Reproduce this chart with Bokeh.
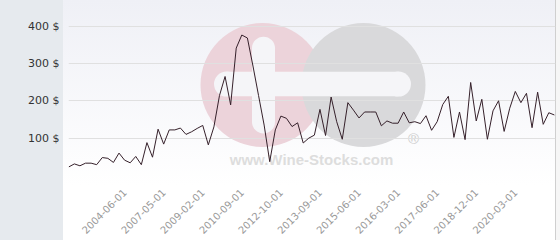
import math
import numpy as np
from bokeh.plotting import figure
from bokeh.models import FixedTicker, Range1d
from bokeh.core.properties import value
from bokeh.embed import file_html
from bokeh.resources import INLINE

# Price series (USD), one value per observation, in order
prices = [23, 31, 26, 33, 33, 29, 48, 46, 35, 60, 41, 34, 51, 29, 88, 49, 124, 84, 122, 122,
          127, 110, 117, 126, 134, 82, 130, 214, 265, 189, 341, 376, 368, 293, 214, 135, 37, 122, 159, 153,
          131, 141, 87, 100, 108, 177, 107, 210, 144, 97, 195, 175, 154, 170, 170, 170, 133, 146, 140, 140,
          170, 141, 144, 139, 160, 121, 144, 190, 212, 102, 170, 96, 249, 146, 204, 97, 173, 200, 118, 180,
          225, 195, 220, 128, 223, 137, 168, 162]

# Observations that carry a date label on the x axis
tick_index = [10, 17, 24, 31, 38, 45, 52, 59, 66, 73, 80]
tick_labels = ["2004-06-01", "2007-05-01", "2009-02-01", "2010-09-01", "2012-10-01",
               "2013-09-01", "2015-06-01", "2016-03-01", "2017-06-01", "2018-12-01", "2020-03-01"]

y_ticks = [0, 100, 200, 300, 400]
y_tick_labels = ["", "100 $", "200 $", "300 $", "400 $"]

x = np.arange(len(prices))

p = figure(width=560, height=240, output_backend="svg", toolbar_location=None,
           x_range=Range1d(-0.05, 87.2), y_range=Range1d(0, 468.4),
           min_border_left=68, min_border_right=5, min_border_top=0, min_border_bottom=62)

p.outline_line_color = None
p.background_fill_alpha = 0
p.border_fill_alpha = 0
p.styles = {
    "background": (
        "linear-gradient(to right, #e6eaee 0px, #e6eaee 63px, rgba(255,255,255,0) 63px), "
        "linear-gradient(to left, #f6f6f6 0px, #f6f6f6 4px, #cfcfcf 4px, #cfcfcf 5px, rgba(255,255,255,0) 5px), "
        "linear-gradient(to bottom, #eff0f6 0px, #ffffff 185px)"
    )
}

# watermark (drawn in pixel-like ranges, under the grid)
p.extra_x_ranges = {"px": Range1d(68, 555)}
p.extra_y_ranges = {"px": Range1d(178, 0)}
wm = dict(x_range_name="px", y_range_name="px", level="image")
p.circle(x=[262], y=[86], radius=62, fill_color="#ecd3da", line_color=None, **wm)
p.circle(x=[363], y=[86], radius=62, fill_color="#d9d9db", line_color=None, **wm)
white = "#f5f5f8"
p.rect(x=[263], y=[86], width=23, height=75, fill_color=white, line_color=None, **wm)
p.circle(x=[263, 263], y=[48.5, 123.5], radius=11.5, fill_color=white, line_color=None, **wm)
p.rect(x=[312], y=[85], width=172, height=25, fill_color=white, line_color=None, **wm)
p.circle(x=[226, 398], y=[85, 85], radius=12.5, fill_color=white, line_color=None, **wm)
p.text(x=[311], y=[162], text=["www.Wine-Stocks.com"], text_font=value("Liberation Sans"),
       text_font_style="bold", text_font_size="15px", text_color="#dddddd",
       text_align="center", text_baseline="middle", **wm)
p.text(x=[413], y=[140], text=["®"], text_font=value("Liberation Sans"),
       text_font_size="15px", text_color="#cdcdcd",
       text_align="center", text_baseline="middle", **wm)

p.line(x=x, y=prices, line_color="#35202a", line_width=1)

p.xgrid.visible = False
p.ygrid.ticker = FixedTicker(ticks=y_ticks)
p.ygrid.grid_line_color = "#e0e0e0"

ya = p.yaxis[0]
ya.ticker = FixedTicker(ticks=y_ticks)
ya.major_label_overrides = {t: lab for t, lab in zip(y_ticks, y_tick_labels)}
ya.axis_line_color = None
ya.major_tick_line_color = None
ya.minor_tick_line_color = None
ya.major_tick_out = 0
ya.major_label_text_font = "DejaVu Sans"
ya.major_label_text_font_size = "11px"
ya.major_label_text_color = "#333333"
ya.major_label_standoff = 9

xa = p.xaxis[0]
xa.ticker = FixedTicker(ticks=tick_index)
xa.major_label_overrides = {t: lab for t, lab in zip(tick_index, tick_labels)}
xa.major_label_orientation = math.pi / 4
xa.axis_line_color = None
xa.major_tick_line_color = None
xa.minor_tick_line_color = None
xa.major_tick_out = 0
xa.major_label_text_font = "DejaVu Sans"
xa.major_label_text_font_size = "10px"
xa.major_label_text_color = "#999999"
xa.major_label_standoff = 15

open("out.html", "w").write(file_html(p, INLINE))
